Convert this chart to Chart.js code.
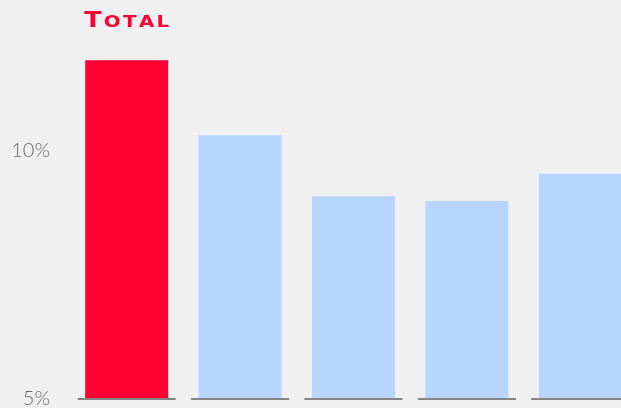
<!DOCTYPE html>
<html>
<head>
<meta charset="utf-8">
<script src="https://cdn.jsdelivr.net/npm/chart.js@4"></script>
<style>
  html, body { margin: 0; padding: 0; background: #f0f0f0; overflow: hidden; }
  #wrap { width: 621px; height: 408px; overflow: hidden; position: relative; }
  canvas { display: block; }
</style>
</head>
<body>
<div id="wrap"><canvas id="c" width="637" height="430"></canvas></div>
<script>
// Return on capital, company vs. peers
const categories = ['TOTAL', 'Peer 1', 'Peer 2', 'Peer 3', 'Peer 4'];
const values = [11.83, 10.32, 9.09, 8.99, 9.54];
const barColors = ['#ff0033', '#b7d5fe', '#b7d5fe', '#b7d5fe', '#b7d5fe'];
const yTicks = [5, 10];
const yMin = 5;
const yMax = 12.5;

// Grey baseline segment under each category, plus the logo-style name above the first bar
const decorations = {
  id: 'decorations',
  afterDatasetsDraw(chart) {
    const ctx = chart.ctx;
    const x = chart.scales.x;
    const y = chart.scales.y;
    const base = y.getPixelForValue(yMin);
    const step = x.getPixelForValue(1) - x.getPixelForValue(0);
    const half = step * 0.865 / 2;
    ctx.save();
    ctx.strokeStyle = '#858585';
    ctx.lineWidth = 2.2;
    categories.forEach((c, i) => {
      const cx = x.getPixelForValue(i);
      ctx.beginPath();
      ctx.moveTo(cx - half, base);
      ctx.lineTo(cx + half, base);
      ctx.stroke();
    });

    // "TOTAL" in small caps above its bar
    const cx0 = x.getPixelForValue(0);
    const name = categories[0];
    const first = name[0];
    const rest = name.slice(1);
    const bigFont = 'bold 21px "DejaVu Sans"';
    const smallFont = 'bold 16.5px "DejaVu Sans"';
    const spacing = 2;
    const stretch = 1.2;
    ctx.font = bigFont;
    const w1 = ctx.measureText(first).width;
    ctx.font = smallFont;
    let w2 = 0;
    for (const ch of rest) w2 += ctx.measureText(ch).width + spacing;
    const total = (w1 + spacing + w2 - spacing) * stretch;
    const baseline = 26.5;
    ctx.translate(cx0 - total / 2, baseline);
    ctx.scale(stretch, 1);
    let px = 0;
    ctx.fillStyle = '#ff0033';
    ctx.textBaseline = 'alphabetic';
    ctx.textAlign = 'left';
    ctx.font = bigFont;
    ctx.fillText(first, px, 0);
    px += w1 + spacing;
    ctx.font = smallFont;
    for (const ch of rest) {
      ctx.fillText(ch, px, 0);
      px += ctx.measureText(ch).width + spacing;
    }
    ctx.restore();
  }
};

new Chart(document.getElementById('c'), {
  type: 'bar',
  data: {
    labels: categories,
    datasets: [{
      data: values,
      backgroundColor: barColors,
      borderWidth: 0,
      barPercentage: 0.732,
      categoryPercentage: 1.0
    }]
  },
  options: {
    responsive: false,
    animation: false,
    layout: { padding: { top: 27, bottom: 31, left: 0, right: 0 } },
    plugins: {
      legend: { display: false },
      tooltip: { enabled: false }
    },
    scales: {
      x: {
        display: false
      },
      y: {
        min: yMin,
        max: yMax,
        afterBuildTicks(scale) {
          scale.ticks = yTicks.map(v => ({ value: v }));
        },
        afterFit(scale) {
          scale.width = 70;
          scale.paddingTop = 0;
          scale.paddingBottom = 0;
        },
        grid: { display: false, drawTicks: false },
        border: { display: false },
        ticks: {
          padding: 20,
          color: '#686868',
          font: { family: 'Lato', size: 20, weight: 300 },
          callback: v => v + '%'
        }
      }
    }
  },
  plugins: [decorations]
});
</script>
</body>
</html>
